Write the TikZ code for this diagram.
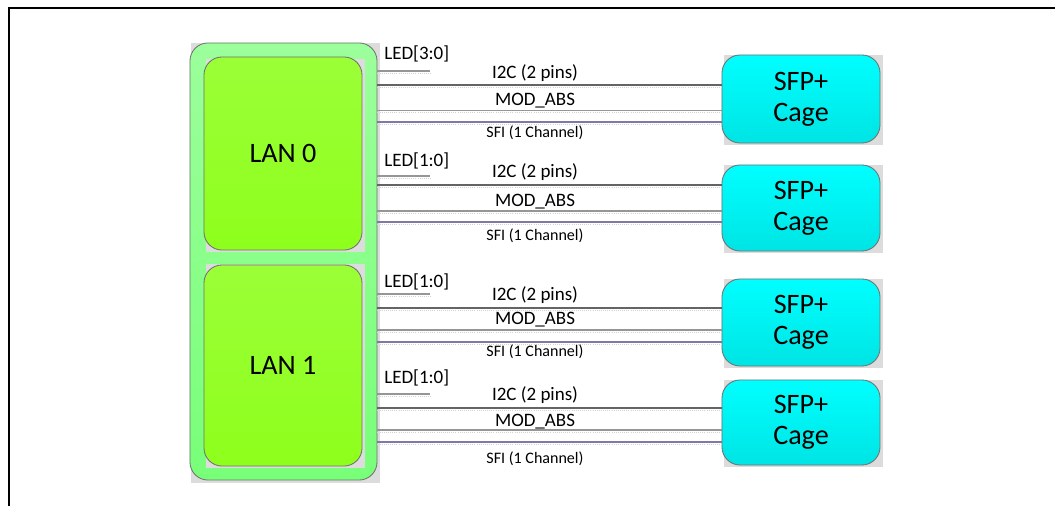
\documentclass[tikz,border=0pt]{standalone}
\usepackage{fontspec}
\setmainfont{Carlito}
\usetikzlibrary{positioning, calc}
\definecolor{lanlime}{RGB}{155,255,55}
\definecolor{lanlimedeep}{RGB}{142,255,28}
\definecolor{portmint}{RGB}{155,255,155}
\definecolor{portmintdeep}{RGB}{120,255,120}
\definecolor{cagecyan}{RGB}{0,255,255}
\definecolor{cagecyandeep}{RGB}{0,228,228}
\definecolor{edgegray}{RGB}{112,112,112}
\definecolor{cornergray}{RGB}{220,220,220}
\definecolor{wiredark}{RGB}{100,100,100}
\definecolor{wiremid}{RGB}{150,150,150}
\definecolor{wirepurple}{RGB}{130,120,165}

\begin{document}
\begin{tikzpicture}[x=0.025cm, y=-0.025cm,
    box/.style={rounded corners=0.45cm, draw=edgegray, line width=0.6pt, inner sep=0pt, align=center, minimum width=3.95cm},
    lanbox/.style={box, top color=lanlime, bottom color=lanlimedeep, font=\fontsize{20}{24}\selectfont},
    cagebox/.style={box, top color=cagecyan, bottom color=cagecyandeep, font=\fontsize{20}{22}\selectfont},
    wirelbl/.style={inner sep=0pt, font=\fontsize{13.5}{16}\selectfont},
    sfilbl/.style={inner sep=0pt, font=\fontsize{11.4}{14}\selectfont},
    wire/.style={draw=#1, line width=0.9pt, postaction={draw=gray!35, line width=0.5pt, densely dotted, transform canvas={yshift=-1.6pt}}}]
\useasboundingbox (0,0) rectangle (1055,506);
\draw[line width=1.4pt] (9,506) -- (9,8) -- (1055,8);

% square corners behind the rounded boxes
\fill[cornergray] (191,43) rectangle (380,483);
\node[box, minimum width=4.675cm, minimum height=10.925cm, top color=portmint, bottom color=portmintdeep] (outer) at (283.5,261.5) {};
\fill[cornergray] (206,59) rectangle (365,252);
\fill[cornergray] (206,264) rectangle (365,468);
\node[lanbox, minimum height=4.825cm] (lan0) at (283,153.5) {LAN 0};
\node[lanbox, minimum height=5.025cm] (lan1) at (283,365.5) {LAN 1};

\fill[cornergray] (724,55) rectangle (883,145);
\fill[cornergray] (724,165) rectangle (883,253);
\fill[cornergray] (724,279) rectangle (883,368);
\fill[cornergray] (724,380) rectangle (883,467);
\node[cagebox, minimum height=2.2cm] (cage1) at (801,99) {SFP+\\Cage};
\node[cagebox, minimum height=2.15cm] (cage2) at (801,208) {SFP+\\Cage};
\node[cagebox, minimum height=2.175cm] (cage3) at (801,322.5) {SFP+\\Cage};
\node[cagebox, minimum height=2.125cm] (cage4) at (801,422.5) {SFP+\\Cage};

% port 0 group
\node[wirelbl, anchor=west] (led1) at (384,54) {LED[3:0]};
\draw[wire=wiremid] (outer.east |- 0,71) -- ++(53,0);
\node[wirelbl] (i2c1) at (535,73) {I2C (2 pins)};
\draw[wire=wiredark] (outer.east |- 0,85) -- (cage1.west |- 0,85);
\node[wirelbl] (mod1) at (535,101) {MOD\_ABS};
\draw[wire=wiremid] (outer.east |- 0,110.5) -- (cage1.west |- 0,110.5);
\draw[wire=wirepurple] (outer.east |- 0,122) -- (cage1.west |- 0,122);
\node[sfilbl] (sfi1) at (535,133) {SFI (1 Channel)};

% port 1 group
\node[wirelbl, anchor=west] (led2) at (384,161) {LED[1:0]};
\draw[wire=wiremid] (outer.east |- 0,176) -- ++(53,0);
\node[wirelbl] (i2c2) at (535,172) {I2C (2 pins)};
\draw[wire=wiredark] (outer.east |- 0,185) -- (cage2.west |- 0,185);
\node[wirelbl] (mod2) at (535,202) {MOD\_ABS};
\draw[wire=wiremid] (outer.east |- 0,211) -- (cage2.west |- 0,211);
\draw[wire=wirepurple] (outer.east |- 0,222) -- (cage2.west |- 0,222);
\node[sfilbl] (sfi2) at (535,236) {SFI (1 Channel)};

% port 2 group
\node[wirelbl, anchor=west] (led3) at (384,282) {LED[1:0]};
\draw[wire=wiremid] (outer.east |- 0,294) -- ++(53,0);
\node[wirelbl] (i2c3) at (535,295) {I2C (2 pins)};
\draw[wire=wiredark] (outer.east |- 0,308) -- (cage3.west |- 0,308);
\node[wirelbl] (mod3) at (535,320) {MOD\_ABS};
\draw[wire=wiremid] (outer.east |- 0,330) -- (cage3.west |- 0,330);
\draw[wire=wirepurple] (outer.east |- 0,342) -- (cage3.west |- 0,342);
\node[sfilbl] (sfi3) at (535,352) {SFI (1 Channel)};

% port 3 group
\node[wirelbl, anchor=west] (led4) at (384,378) {LED[1:0]};
\draw[wire=wiremid] (outer.east |- 0,394) -- ++(53,0);
\node[wirelbl] (i2c4) at (535,395) {I2C (2 pins)};
\draw[wire=wiredark] (outer.east |- 0,408) -- (cage4.west |- 0,408);
\node[wirelbl] (mod4) at (535,422) {MOD\_ABS};
\draw[wire=wiremid] (outer.east |- 0,430) -- (cage4.west |- 0,430);
\draw[wire=wirepurple] (outer.east |- 0,442) -- (cage4.west |- 0,442);
\node[sfilbl] (sfi4) at (535,459) {SFI (1 Channel)};
\end{tikzpicture}
\end{document}
